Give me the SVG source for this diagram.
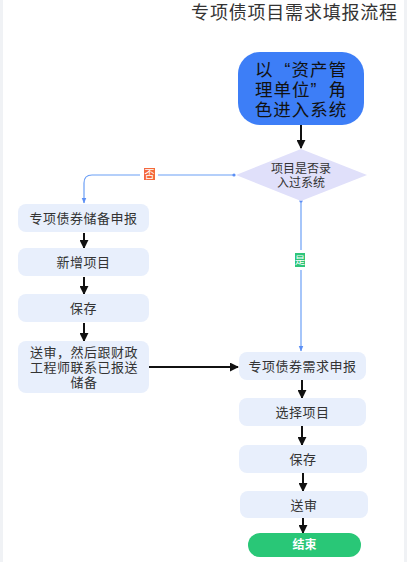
<svg xmlns="http://www.w3.org/2000/svg" width="407" height="562" viewBox="0 0 407 562">
<defs>
<style>
.t{font-family:"Liberation Sans","Noto Sans CJK SC",sans-serif;fill:#333;text-anchor:middle;dominant-baseline:central}
.box{fill:#e8effc}
.bx{font-size:13px;letter-spacing:0.5px}
.blk{stroke:#111;stroke-width:2;fill:none}
.blu{stroke:#6b9ff6;stroke-width:1.2;fill:none}
</style>
<marker id="ah" viewBox="0 0 10 10" refX="9" refY="5" markerWidth="4.5" markerHeight="4.5" markerUnits="strokeWidth" orient="auto"><path d="M0,0L10,5L0,10z" fill="#111"/></marker>
<marker id="ab" viewBox="0 0 10 10" refX="9" refY="5" markerWidth="5" markerHeight="5" markerUnits="strokeWidth" orient="auto"><path d="M0,1L10,5L0,9z" fill="#5b8ff5"/></marker>
</defs>
<rect x="0" y="0" width="407" height="562" fill="#f0f2f5"/>
<rect x="3" y="0" width="401" height="562" fill="#fff"/>
<text class="t" x="294.5" y="13" style="font-size:18px;letter-spacing:0.8px">专项债项目需求填报流程</text>
<g id="connectors">
<path class="blk" d="M301,125V148" marker-end="url(#ah)"/>
<path class="blu" d="M234,175H92Q84,175 84,183V203" marker-end="url(#ab)"/>
<circle cx="234" cy="175" r="1.6" fill="#5b8ff5"/>
<path class="blu" d="M301,201V351" marker-end="url(#ab)"/>
<circle cx="301" cy="201" r="1.6" fill="#5b8ff5"/>
<path class="blk" d="M84,233V248" marker-end="url(#ah)"/>
<path class="blk" d="M84,277V294" marker-end="url(#ah)"/>
<path class="blk" d="M84,323V341" marker-end="url(#ah)"/>
<path class="blk" d="M149,367H238" marker-end="url(#ah)"/>
<path class="blk" d="M302,380V398" marker-end="url(#ah)"/>
<path class="blk" d="M302,426V445" marker-end="url(#ah)"/>
<path class="blk" d="M303,473V491" marker-end="url(#ah)"/>
<path class="blk" d="M303,518V533" marker-end="url(#ah)"/>
<g id="label-no"><rect x="140" y="166" width="18" height="16" fill="#fff"/><rect x="144" y="168" width="11" height="12" fill="#f4693c"/><text class="t" x="149.5" y="174" style="font-size:10px;fill:#fff">否</text></g>
<g id="label-yes"><rect x="292" y="250" width="16" height="20" fill="#fff"/><rect x="295" y="253" width="10" height="14" fill="#2ec57a"/><text class="t" x="300" y="260" style="font-size:10px;fill:#fff">是</text></g>
</g>
<g id="start"><rect x="238" y="52" width="126" height="73" rx="22" fill="#3d7ef7"/>
<text class="t" style="font-size:17.5px;letter-spacing:1px;fill:#111"><tspan x="301" y="70">以<tspan dx="11">“</tspan>资产管</tspan><tspan x="301" y="90">理单位”<tspan dx="11">角</tspan></tspan><tspan x="301" y="110">色进入系统</tspan></text></g>
<g id="decision"><path d="M236,175L301,149L367,175L301,201z" fill="#e0e0fa"/>
<text class="t" style="font-size:12px"><tspan x="301" y="169">项目是否录</tspan><tspan x="301" y="183">入过系统</tspan></text></g>
<g id="n1"><rect class="box" x="18" y="204" width="131" height="28" rx="8"/><text class="t bx" x="83.5" y="218">专项债券储备申报</text></g>
<g id="n2"><rect class="box" x="18" y="248" width="131" height="28" rx="8"/><text class="t bx" x="83.5" y="262">新增项目</text></g>
<g id="n3"><rect class="box" x="18" y="294" width="131" height="28" rx="8"/><text class="t bx" x="83.5" y="308">保存</text></g>
<g id="n4"><rect class="box" x="18" y="341" width="131" height="52" rx="8"/>
<text class="t bx"><tspan x="84" y="352">送审，然后跟财政</tspan><tspan x="84" y="367">工程师联系已报送</tspan><tspan x="84" y="382">储备</tspan></text></g>
<g id="m1"><rect class="box" x="239" y="352" width="127" height="28" rx="8"/><text class="t bx" x="302.5" y="366">专项债券需求申报</text></g>
<g id="m2"><rect class="box" x="239" y="398" width="127" height="28" rx="8"/><text class="t bx" x="302.5" y="412">选择项目</text></g>
<g id="m3"><rect class="box" x="239" y="445" width="128" height="28" rx="8"/><text class="t bx" x="303" y="459">保存</text></g>
<g id="m4"><rect class="box" x="240" y="491" width="128" height="27" rx="8"/><text class="t bx" x="304" y="505">送审</text></g>
<g id="end"><rect x="248" y="533" width="113" height="24" rx="12" fill="#29c777"/><text class="t" x="304.5" y="545" style="font-size:12px;fill:#fff;font-weight:bold">结束</text></g>
</svg>
